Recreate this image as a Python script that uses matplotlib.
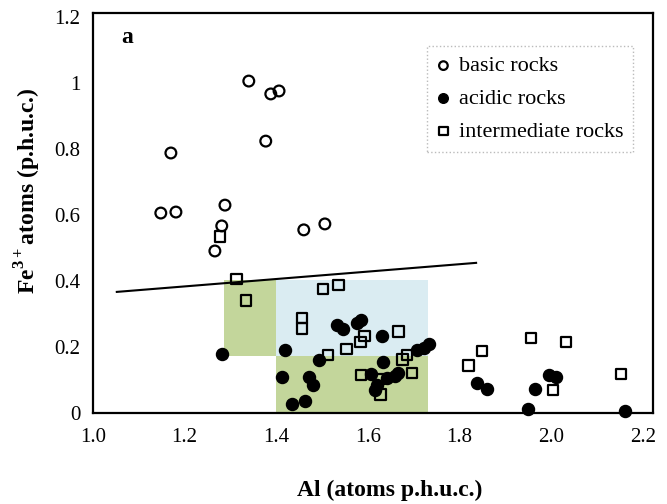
import matplotlib
matplotlib.use("Agg")
import matplotlib.pyplot as plt
from matplotlib.patches import Rectangle

plt.rcParams["font.family"] = ["Liberation Serif", "DejaVu Serif"]
plt.rcParams["mathtext.fontset"] = "custom"
plt.rcParams["mathtext.rm"] = "Liberation Serif"
plt.rcParams["mathtext.bf"] = "Liberation Serif:bold"

# basic rocks (open circles)
basic_al = [1.340, 1.388, 1.406, 1.377, 1.170, 1.148, 1.181, 1.288, 1.281, 1.460, 1.506, 1.266]
basic_fe = [1.006, 0.967, 0.976, 0.824, 0.788, 0.606, 0.609, 0.630, 0.567, 0.555, 0.573, 0.491]

# acidic rocks (filled circles)
acidic_al = [1.281, 1.419, 1.532, 1.545, 1.576, 1.585, 1.631, 1.707, 1.722, 1.733,
             1.493, 1.633, 1.412, 1.471, 1.480, 1.434, 1.463, 1.607, 1.620, 1.641,
             1.659, 1.666, 1.615, 1.838, 1.860, 1.995, 2.010, 1.964, 1.949, 2.161]
acidic_fe = [0.179, 0.191, 0.267, 0.255, 0.273, 0.282, 0.233, 0.191, 0.197, 0.209,
             0.161, 0.155, 0.109, 0.109, 0.085, 0.027, 0.036, 0.118, 0.085, 0.106,
             0.112, 0.121, 0.070, 0.091, 0.073, 0.115, 0.109, 0.073, 0.012, 0.006]

# intermediate rocks (open squares)
inter_al = [1.277, 1.314, 1.334, 1.502, 1.535, 1.456, 1.456, 1.666, 1.593, 1.583,
            1.554, 1.513, 1.685, 1.676, 1.696, 1.585, 1.626, 1.628, 1.849, 1.820,
            1.956, 2.032, 2.004, 2.152]
inter_fe = [0.536, 0.406, 0.342, 0.376, 0.388, 0.288, 0.255, 0.248, 0.233, 0.215,
            0.194, 0.176, 0.176, 0.161, 0.121, 0.115, 0.103, 0.055, 0.188, 0.145,
            0.227, 0.215, 0.070, 0.118]

# dividing line
line_al = [1.052, 1.836]
line_fe = [0.367, 0.455]

# shaded fields: (x0, x1, y0, y1, colour)
fields = [
    (1.286, 1.40, 0.173, 0.403, "#c3d69b"),
    (1.40, 1.731, 0.173, 0.403, "#daecf2"),
    (1.40, 1.731, 0.0, 0.173, "#c3d69b"),
]

fig = plt.figure(figsize=(6.67, 5.04), dpi=100)
ax = fig.add_axes([0.1394, 0.1806, 0.8396, 0.7934])

for x0, x1, y0, y1, c in fields:
    ax.add_patch(Rectangle((x0, y0), x1 - x0, y1 - y0, facecolor=c, edgecolor="none", zorder=0))

ax.plot(line_al, line_fe, color="black", lw=1.5, zorder=2)

ax.scatter(basic_al, basic_fe, s=60, facecolors="none", edgecolors="black", linewidths=1.6,
           marker="o", label="basic rocks", zorder=3, clip_on=False)
ax.scatter(acidic_al, acidic_fe, s=75, color="black", marker="o",
           label="acidic rocks", zorder=3, clip_on=False)
ax.scatter(inter_al, inter_fe, s=60, facecolors="none", edgecolors="black", linewidths=1.6,
           marker="s", label="intermediate rocks", zorder=3, clip_on=False)

ax.set_xlim(1.0, 2.222)
ax.set_ylim(0, 1.212)
ax.set_xticks([1.0, 1.2, 1.4, 1.6, 1.8, 2.0, 2.2])
ax.set_xticklabels(["1.0", "1.2", "1.4", "1.6", "1.8", "2.0", "2.2"])
ax.set_yticks([0, 0.2, 0.4, 0.6, 0.8, 1.0, 1.2])
ax.set_yticklabels(["0", "0.2", "0.4", "0.6", "0.8", "1", "1.2"])
ax.tick_params(axis="x", length=0, pad=11, labelsize=15)
ax.tick_params(axis="y", length=0, pad=9, labelsize=15)
for sp in ax.spines.values():
    sp.set_linewidth(1.6)

ax.set_xlabel("Al (atoms p.h.u.c.)", fontsize=17, fontweight="bold")
ax.xaxis.set_label_coords(0.53, -0.168)
ax.set_ylabel("Fe$^{\\mathbf{3+}}$atoms (p.h.u.c.)", fontsize=17, fontweight="bold")
ax.yaxis.set_label_coords(-0.09, 0.557)

ax.text(0.05, 0.94, "a", transform=ax.transAxes, fontsize=17, fontweight="bold",
        ha="left", va="center")

leg = ax.legend(loc="upper left", bbox_to_anchor=(0.596, 0.918), fontsize=16,
                markerscale=0.8, handlelength=0.6, handletextpad=0.4,
                labelspacing=0.55, borderpad=0.45, borderaxespad=0,
                fancybox=False, framealpha=1)
leg.get_frame().set_edgecolor("#bbbbbb")
leg.get_frame().set_linestyle(":")
leg.get_frame().set_linewidth(1.0)

fig.savefig("out.png", dpi=100)
